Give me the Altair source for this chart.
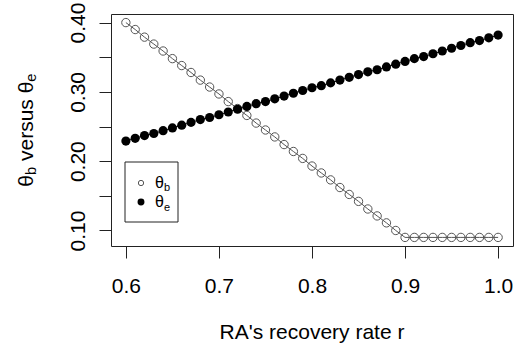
import altair as alt
import pandas as pd

# ---- data ----
r_values = [0.60, 0.61, 0.62, 0.63, 0.64, 0.65, 0.66, 0.67, 0.68, 0.69,
            0.70, 0.71, 0.72, 0.73, 0.74, 0.75, 0.76, 0.77, 0.78, 0.79,
            0.80, 0.81, 0.82, 0.83, 0.84, 0.85, 0.86, 0.87, 0.88, 0.89,
            0.90, 0.91, 0.92, 0.93, 0.94, 0.95, 0.96, 0.97, 0.98, 0.99, 1.00]
theta_b = [0.400, 0.390, 0.379, 0.369, 0.359, 0.348, 0.338, 0.328, 0.317, 0.307,
           0.297, 0.286, 0.276, 0.266, 0.255, 0.245, 0.235, 0.224, 0.214, 0.204,
           0.193, 0.183, 0.173, 0.162, 0.152, 0.142, 0.131, 0.121, 0.111, 0.100,
           0.090, 0.090, 0.090, 0.090, 0.090, 0.090, 0.090, 0.090, 0.090, 0.090, 0.090]
theta_e = [0.229, 0.233, 0.237, 0.240, 0.244, 0.248, 0.252, 0.256, 0.260, 0.263,
           0.267, 0.271, 0.275, 0.279, 0.283, 0.286, 0.290, 0.294, 0.298, 0.302,
           0.306, 0.309, 0.313, 0.317, 0.321, 0.325, 0.329, 0.332, 0.336, 0.340,
           0.344, 0.348, 0.351, 0.355, 0.359, 0.363, 0.367, 0.371, 0.374, 0.378, 0.382]
x_ticks = [0.6, 0.7, 0.8, 0.9, 1.0]
y_ticks = [0.10, 0.15, 0.20, 0.25, 0.30, 0.35, 0.40]
x_title = "RA's recovery rate r"

df = pd.DataFrame({"r": r_values, "theta_b": theta_b, "theta_e": theta_e})
one = pd.DataFrame({"k": [0]})

FONT = "Liberation Sans"
INK = "#222222"
GRAY = "#555555"

x_scale = alt.Scale(domain=[0.584, 1.016], nice=False, zero=False)
y_scale = alt.Scale(domain=[0.0776, 0.4124], nice=False, zero=False)

x_axis = alt.Axis(values=x_ticks, format=".1f", title=None, grid=False, domain=False,
                  tickSize=12, tickColor=INK, labelFontSize=21, labelPadding=17,
                  labelColor="black", labelFont=FONT)
y_axis = alt.Axis(values=y_ticks, title=None, grid=False, domain=False,
                  labelExpr="(round(datum.value*100) % 10 == 0) ? format(datum.value, '.2f') : ''",
                  tickSize=12, tickColor=INK, labelFontSize=21, labelPadding=15,
                  labelAngle=270, labelAlign="center", labelBaseline="alphabetic",
                  labelColor="black", labelFont=FONT)

X = alt.X("r:Q", scale=x_scale, axis=x_axis)
Yb = alt.Y("theta_b:Q", scale=y_scale, axis=y_axis)
Ye = alt.Y("theta_e:Q", scale=y_scale, axis=y_axis)

base = alt.Chart(df)
line_b = base.mark_line(color=GRAY, strokeWidth=1).encode(x=X, y=Yb)
pts_b = base.mark_point(shape="circle", filled=False, size=70, color=GRAY,
                        strokeWidth=1, opacity=1).encode(x=X, y=Yb)
line_e = base.mark_line(color="black", strokeWidth=1).encode(x=X, y=Ye)
pts_e = base.mark_circle(size=84, color="black", opacity=1).encode(x=X, y=Ye)


def txt(s, x, y, size, angle=0, align="left", baseline="alphabetic"):
    kw = dict(text=s, font=FONT, fontSize=size, align=align,
              baseline=baseline, color="black")
    if angle:
        kw["angle"] = angle
    return alt.Chart(one).mark_text(**kw).encode(x=alt.value(x), y=alt.value(y))


# legend box and entries
leg_box = alt.Chart(one).mark_rect(fill="white", stroke=INK, strokeWidth=1).encode(
    x=alt.value(14), x2=alt.value(67), y=alt.value(148), y2=alt.value(208))
leg_pb = alt.Chart(one).mark_point(shape="circle", filled=False, size=28, color=GRAY,
                                   strokeWidth=1, opacity=1).encode(
    x=alt.value(30), y=alt.value(169))
leg_pe = alt.Chart(one).mark_circle(size=48, color="black", opacity=1).encode(
    x=alt.value(30), y=alt.value(188))
leg_texts = [
    txt("θ", 44, 174, 16), txt("b", 52.9, 176.5, 11),
    txt("θ", 44, 192.5, 16), txt("e", 52.9, 197, 11),
]

# y-axis title with subscripts (rotated)
ytitle = [
    txt("θ", -78, 172.7, 21, angle=270),
    txt("b", -74.7, 161.0, 14.7, angle=270),
    txt("versus θ", -78, 147.0, 21, angle=270),
    txt("e", -74.7, 67.7, 14.7, angle=270),
]

# x-axis title
xt = txt(x_title, 201, 325.3, 21, align="center")

chart = alt.layer(
    line_b, pts_b, line_e, pts_e, leg_box, leg_pb, leg_pe, *leg_texts, *ytitle, xt
).properties(
    width=402, height=232,
    autosize=alt.AutoSizeParams(type="none"),
    padding={"left": 111, "top": 14, "right": 6, "bottom": 100},
    background="white",
).configure_view(stroke=INK, strokeWidth=1)

chart.save("out.html", embed_options={"renderer": "svg", "actions": False})
